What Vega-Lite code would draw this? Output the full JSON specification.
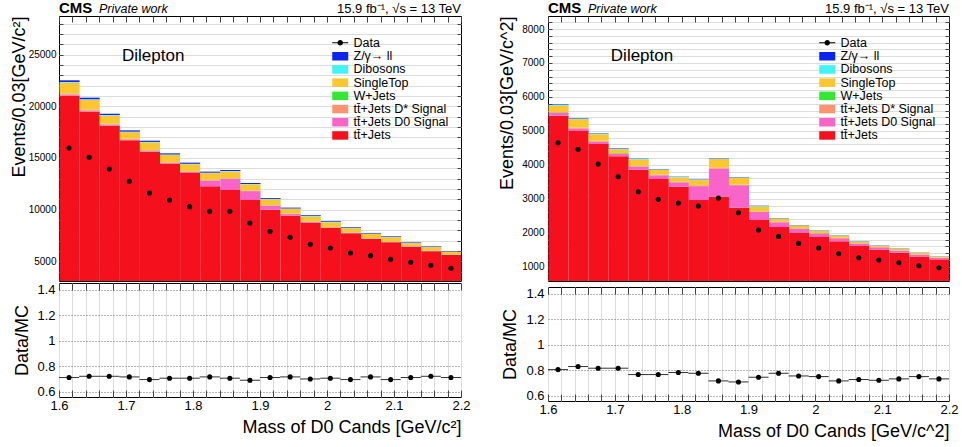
{
  "$schema": "https://vega.github.io/schema/vega-lite/v6.json",
  "padding": {"left": 9, "top": 0, "right": 5, "bottom": 0},
  "background": "white",
  "config": {
    "font": "Liberation Sans",
    "view": {"stroke": "black", "strokeWidth": 1},
    "axis": {"labelFont": "Liberation Sans", "titleFont": "Liberation Sans", "labelColor": "black", "titleColor": "black", "titleFontWeight": "normal", "labelOverlap": false, "labelFlush": false},
    "legend": {"labelFont": "Liberation Sans", "labelColor": "black", "padding": 0},
    "text": {"font": "Liberation Sans", "color": "black"}
  },
  "datasets": {
    "mcL": [
      {"lo": 1.60, "hi": 1.63, "p1": 21030, "p2": 100, "p3": 80, "p4": 40, "p5": 1050, "p6": 60, "p7": 160},
      {"lo": 1.63, "hi": 1.66, "p1": 19480, "p2": 90, "p3": 70, "p4": 40, "p5": 950, "p6": 60, "p7": 150},
      {"lo": 1.66, "hi": 1.69, "p1": 18130, "p2": 80, "p3": 60, "p4": 35, "p5": 800, "p6": 50, "p7": 135},
      {"lo": 1.69, "hi": 1.72, "p1": 16710, "p2": 70, "p3": 55, "p4": 30, "p5": 640, "p6": 45, "p7": 125},
      {"lo": 1.72, "hi": 1.75, "p1": 15610, "p2": 80, "p3": 50, "p4": 30, "p5": 745, "p6": 45, "p7": 115},
      {"lo": 1.75, "hi": 1.78, "p1": 14420, "p2": 90, "p3": 50, "p4": 25, "p5": 710, "p6": 45, "p7": 110},
      {"lo": 1.78, "hi": 1.81, "p1": 13550, "p2": 100, "p3": 45, "p4": 25, "p5": 680, "p6": 40, "p7": 110},
      {"lo": 1.81, "hi": 1.84, "p1": 12260, "p2": 560, "p3": 45, "p4": 25, "p5": 650, "p6": 40, "p7": 100},
      {"lo": 1.84, "hi": 1.87, "p1": 11900, "p2": 1080, "p3": 45, "p4": 25, "p5": 650, "p6": 40, "p7": 100},
      {"lo": 1.87, "hi": 1.90, "p1": 10935, "p2": 860, "p3": 40, "p4": 25, "p5": 590, "p6": 35, "p7": 95},
      {"lo": 1.90, "hi": 1.93, "p1": 10000, "p2": 380, "p3": 40, "p4": 20, "p5": 570, "p6": 35, "p7": 85},
      {"lo": 1.93, "hi": 1.96, "p1": 9420, "p2": 150, "p3": 35, "p4": 20, "p5": 460, "p6": 30, "p7": 80},
      {"lo": 1.96, "hi": 1.99, "p1": 8740, "p2": 70, "p3": 35, "p4": 20, "p5": 480, "p6": 30, "p7": 75},
      {"lo": 1.99, "hi": 2.02, "p1": 8225, "p2": 50, "p3": 30, "p4": 20, "p5": 450, "p6": 30, "p7": 70},
      {"lo": 2.02, "hi": 2.05, "p1": 7710, "p2": 40, "p3": 30, "p4": 15, "p5": 400, "p6": 25, "p7": 70},
      {"lo": 2.05, "hi": 2.08, "p1": 7160, "p2": 35, "p3": 30, "p4": 15, "p5": 420, "p6": 25, "p7": 60},
      {"lo": 2.08, "hi": 2.11, "p1": 6840, "p2": 30, "p3": 25, "p4": 15, "p5": 425, "p6": 25, "p7": 60},
      {"lo": 2.11, "hi": 2.14, "p1": 6420, "p2": 30, "p3": 25, "p4": 15, "p5": 270, "p6": 20, "p7": 55},
      {"lo": 2.14, "hi": 2.17, "p1": 5970, "p2": 25, "p3": 25, "p4": 15, "p5": 340, "p6": 20, "p7": 55},
      {"lo": 2.17, "hi": 2.20, "p1": 5610, "p2": 25, "p3": 20, "p4": 15, "p5": 260, "p6": 20, "p7": 50}
    ],
    "dataL": [
      {"c": 1.615, "lo": 1.60, "hi": 1.63, "data": 15967, "ratio": 0.711},
      {"c": 1.645, "lo": 1.63, "hi": 1.66, "data": 15064, "ratio": 0.721},
      {"c": 1.675, "lo": 1.66, "hi": 1.69, "data": 13935, "ratio": 0.721},
      {"c": 1.705, "lo": 1.69, "hi": 1.72, "data": 12742, "ratio": 0.716},
      {"c": 1.735, "lo": 1.72, "hi": 1.75, "data": 11613, "ratio": 0.695},
      {"c": 1.765, "lo": 1.75, "hi": 1.78, "data": 10935, "ratio": 0.706},
      {"c": 1.795, "lo": 1.78, "hi": 1.81, "data": 10290, "ratio": 0.706},
      {"c": 1.825, "lo": 1.81, "hi": 1.84, "data": 9838, "ratio": 0.716},
      {"c": 1.855, "lo": 1.84, "hi": 1.87, "data": 9838, "ratio": 0.706},
      {"c": 1.885, "lo": 1.87, "hi": 1.90, "data": 8710, "ratio": 0.690},
      {"c": 1.915, "lo": 1.90, "hi": 1.93, "data": 7903, "ratio": 0.711},
      {"c": 1.945, "lo": 1.93, "hi": 1.96, "data": 7322, "ratio": 0.716},
      {"c": 1.975, "lo": 1.96, "hi": 1.99, "data": 6644, "ratio": 0.700},
      {"c": 2.005, "lo": 1.99, "hi": 2.02, "data": 6290, "ratio": 0.706},
      {"c": 2.035, "lo": 2.02, "hi": 2.05, "data": 5806, "ratio": 0.695},
      {"c": 2.065, "lo": 2.05, "hi": 2.08, "data": 5548, "ratio": 0.716},
      {"c": 2.095, "lo": 2.08, "hi": 2.11, "data": 5193, "ratio": 0.695},
      {"c": 2.125, "lo": 2.11, "hi": 2.14, "data": 4902, "ratio": 0.711},
      {"c": 2.155, "lo": 2.14, "hi": 2.17, "data": 4612, "ratio": 0.721},
      {"c": 2.185, "lo": 2.17, "hi": 2.20, "data": 4322, "ratio": 0.711}
    ],
    "mcR": [
      {"lo": 1.60, "hi": 1.63, "p1": 5447, "p2": 80, "p3": 20, "p4": 10, "p5": 190, "p6": 20, "p7": 15},
      {"lo": 1.63, "hi": 1.66, "p1": 4996, "p2": 70, "p3": 20, "p4": 10, "p5": 250, "p6": 20, "p7": 14},
      {"lo": 1.66, "hi": 1.69, "p1": 4613, "p2": 70, "p3": 18, "p4": 10, "p5": 190, "p6": 15, "p7": 12},
      {"lo": 1.69, "hi": 1.72, "p1": 4250, "p2": 70, "p3": 17, "p4": 8, "p5": 115, "p6": 15, "p7": 12},
      {"lo": 1.72, "hi": 1.75, "p1": 3857, "p2": 90, "p3": 17, "p4": 8, "p5": 185, "p6": 14, "p7": 10},
      {"lo": 1.75, "hi": 1.78, "p1": 3582, "p2": 110, "p3": 15, "p4": 8, "p5": 137, "p6": 14, "p7": 10},
      {"lo": 1.78, "hi": 1.81, "p1": 3356, "p2": 130, "p3": 15, "p4": 8, "p5": 120, "p6": 12, "p7": 10},
      {"lo": 1.81, "hi": 1.84, "p1": 2963, "p2": 410, "p3": 15, "p4": 7, "p5": 155, "p6": 12, "p7": 10},
      {"lo": 1.84, "hi": 1.87, "p1": 3071, "p2": 820, "p3": 15, "p4": 7, "p5": 256, "p6": 12, "p7": 10},
      {"lo": 1.87, "hi": 1.90, "p1": 2738, "p2": 660, "p3": 14, "p4": 7, "p5": 200, "p6": 12, "p7": 10},
      {"lo": 1.90, "hi": 1.93, "p1": 2374, "p2": 240, "p3": 13, "p4": 7, "p5": 140, "p6": 14, "p7": 9},
      {"lo": 1.93, "hi": 1.96, "p1": 2168, "p2": 140, "p3": 12, "p4": 6, "p5": 88, "p6": 12, "p7": 8},
      {"lo": 1.96, "hi": 1.99, "p1": 1991, "p2": 120, "p3": 12, "p4": 6, "p5": 82, "p6": 10, "p7": 7},
      {"lo": 1.99, "hi": 2.02, "p1": 1874, "p2": 100, "p3": 11, "p4": 6, "p5": 63, "p6": 10, "p7": 7},
      {"lo": 2.02, "hi": 2.05, "p1": 1746, "p2": 90, "p3": 10, "p4": 5, "p5": 65, "p6": 10, "p7": 6},
      {"lo": 2.05, "hi": 2.08, "p1": 1608, "p2": 70, "p3": 10, "p4": 5, "p5": 48, "p6": 9, "p7": 6},
      {"lo": 2.08, "hi": 2.11, "p1": 1500, "p2": 70, "p3": 9, "p4": 5, "p5": 40, "p6": 9, "p7": 5},
      {"lo": 2.11, "hi": 2.14, "p1": 1412, "p2": 60, "p3": 9, "p4": 5, "p5": 50, "p6": 9, "p7": 5},
      {"lo": 2.14, "hi": 2.17, "p1": 1304, "p2": 50, "p3": 8, "p4": 4, "p5": 43, "p6": 8, "p7": 5},
      {"lo": 2.17, "hi": 2.20, "p1": 1216, "p2": 40, "p3": 8, "p4": 4, "p5": 35, "p6": 7, "p7": 4}
    ],
    "dataR": [
      {"c": 1.615, "lo": 1.60, "hi": 1.63, "data": 4652, "ratio": 0.805},
      {"c": 1.645, "lo": 1.63, "hi": 1.66, "data": 4456, "ratio": 0.829},
      {"c": 1.675, "lo": 1.66, "hi": 1.69, "data": 4024, "ratio": 0.816},
      {"c": 1.705, "lo": 1.69, "hi": 1.72, "data": 3651, "ratio": 0.816},
      {"c": 1.735, "lo": 1.72, "hi": 1.75, "data": 3209, "ratio": 0.766},
      {"c": 1.765, "lo": 1.75, "hi": 1.78, "data": 2983, "ratio": 0.766},
      {"c": 1.795, "lo": 1.78, "hi": 1.81, "data": 2875, "ratio": 0.782},
      {"c": 1.825, "lo": 1.81, "hi": 1.84, "data": 2787, "ratio": 0.776},
      {"c": 1.855, "lo": 1.84, "hi": 1.87, "data": 3022, "ratio": 0.716},
      {"c": 1.885, "lo": 1.87, "hi": 1.90, "data": 2590, "ratio": 0.708},
      {"c": 1.915, "lo": 1.90, "hi": 1.93, "data": 2080, "ratio": 0.745},
      {"c": 1.945, "lo": 1.93, "hi": 1.96, "data": 1893, "ratio": 0.776},
      {"c": 1.975, "lo": 1.96, "hi": 1.99, "data": 1687, "ratio": 0.755},
      {"c": 2.005, "lo": 1.99, "hi": 2.02, "data": 1550, "ratio": 0.750},
      {"c": 2.035, "lo": 2.02, "hi": 2.05, "data": 1383, "ratio": 0.716},
      {"c": 2.065, "lo": 2.05, "hi": 2.08, "data": 1265, "ratio": 0.727},
      {"c": 2.095, "lo": 2.08, "hi": 2.11, "data": 1196, "ratio": 0.721},
      {"c": 2.125, "lo": 2.11, "hi": 2.14, "data": 1117, "ratio": 0.732},
      {"c": 2.155, "lo": 2.14, "hi": 2.17, "data": 1029, "ratio": 0.750},
      {"c": 2.185, "lo": 2.17, "hi": 2.20, "data": 970, "ratio": 0.732}
    ]
  },
  "spacing": 26,
  "resolve": {"scale": {"color": "independent", "opacity": "independent"}, "legend": {"color": "independent", "opacity": "independent"}},
  "hconcat": [
    {
      "spacing": 0,
      "resolve": {"scale": {"color": "independent", "opacity": "independent"}, "legend": {"color": "independent", "opacity": "independent"}},
      "vconcat": [
        {
          "width": 402, "height": 265,
          "resolve": {"axis": {"x": "independent", "y": "independent"}},
          "layer": [
            {
              "data": {"name": "mcL"},
              "transform": [{"fold": ["p1", "p2", "p3", "p4", "p5", "p6", "p7"], "as": ["proc", "n"]}],
              "mark": {"type": "bar", "binSpacing": 0, "clip": true, "strokeWidth": 0, "orient": "vertical"},
              "encoding": {
                "x": {"field": "lo", "type": "quantitative", "bin": {"binned": true}, "scale": {"domain": [1.6, 2.2], "nice": false, "zero": false},
                      "axis": {"orient": "bottom", "ticks": false, "labels": false, "title": null, "domain": false}},
                "x2": {"field": "hi"},
                "y": {"field": "n", "type": "quantitative", "stack": "zero", "scale": {"domain": [3093, 28746], "nice": false, "zero": false},
                      "axis": {"orient": "left", "values": [4000,5000,6000,7000,8000,9000,10000,11000,12000,13000,14000,15000,16000,17000,18000,19000,20000,21000,22000,23000,24000,25000,26000,27000,28000],
                               "labelExpr": "datum.value % 5000 == 0 ? format(datum.value, 'd') : ''",
                               "tickSize": 4, "offset": -4, "tickColor": "#444444", "tickWidth": 1,
                               "labelFontSize": 10, "labelPadding": 3, "labelBaseline": "middle",
                               "title": "Events/0.03[GeV/c²]", "titleFontSize": 18, "titleAnchor": "end", "titleX": -39, "titleBaseline": "alphabetic",
                               "domain": false}},
                "color": {"field": "proc", "type": "nominal",
                          "scale": {"domain": ["p7", "p6", "p5", "p4", "p3", "p2", "p1"], "range": ["#0b25ee", "#3ff4f4", "#fcc631", "#33e833", "#fd9470", "#f964c8", "#f5101e"]},
                          "legend": {"orient": "none", "legendX": 275, "legendY": 34, "title": null,
                                     "symbolType": "M-1.6,-0.85H1.6V0.85H-1.6Z", "symbolSize": 100, "symbolStrokeWidth": 0, "symbolOpacity": 1,
                                     "labelFontSize": 12.5, "labelOffset": 7, "rowPadding": 0.2,
                                     "labelExpr": "{'p7': 'Z/γ→ ll', 'p6': 'Dibosons', 'p5': 'SingleTop', 'p4': 'W+Jets', 'p3': 'tt̄+Jets D* Signal', 'p2': 'tt̄+Jets D0 Signal', 'p1': 'tt̄+Jets'}[datum.label]"}},
                "order": {"field": "proc", "type": "nominal", "sort": "ascending"}
              }
            },
            {
              "data": {"name": "dataL"},
              "mark": {"type": "point", "filled": true, "shape": "circle", "size": 26, "color": "black"},
              "encoding": {
                "x": {"field": "c", "type": "quantitative", "scale": {"domain": [1.6, 2.2], "nice": false, "zero": false},
                      "axis": {"orient": "top", "values": [1.6,1.62,1.64,1.66,1.68,1.7,1.72,1.74,1.76,1.78,1.8,1.82,1.84,1.86,1.88,1.9,1.92,1.94,1.96,1.98,2,2.02,2.04,2.06,2.08,2.1,2.12,2.14,2.16,2.18,2.2],
                               "tickSize": 6, "offset": -6, "tickColor": "#444444", "tickWidth": 1,
                               "labels": false, "title": null, "domain": false}},
                "y": {"field": "data", "type": "quantitative", "scale": {"domain": [3093, 28746], "nice": false, "zero": false},
                      "axis": {"orient": "right", "values": [4000,5000,6000,7000,8000,9000,10000,11000,12000,13000,14000,15000,16000,17000,18000,19000,20000,21000,22000,23000,24000,25000,26000,27000,28000],
                               "tickSize": 4, "offset": -4, "tickColor": "#444444", "tickWidth": 1,
                               "labels": false, "title": null, "domain": false}},
                "opacity": {"datum": "Data", "type": "nominal", "scale": {"range": [1]},
                            "legend": {"orient": "none", "legendX": 275, "legendY": 20.5, "title": null,
                                       "symbolType": "M-1.6,-0.1H1.6V0.1H-1.6ZM0.55,0A0.55,0.55 0 1,1 -0.55,0A0.55,0.55 0 1,1 0.55,0Z", "symbolSize": 100,
                                       "symbolFillColor": "black", "symbolStrokeColor": "black", "symbolStrokeWidth": 0,
                                       "labelFontSize": 12.5, "labelOffset": 7}}
              }
            },
            {
              "data": {"values": [{}]},
              "mark": {"type": "text", "text": "Dilepton", "fontSize": 17, "align": "left", "baseline": "middle"},
              "encoding": {"x": {"datum": 1.694, "scale": {"domain": [1.6, 2.2], "nice": false, "zero": false}, "axis": null},
                           "y": {"datum": 24900, "scale": {"domain": [3093, 28746], "nice": false, "zero": false}, "axis": null}}
            },
            {
              "data": {"values": [{}]},
              "mark": {"type": "text", "text": "CMS", "fontSize": 15, "fontWeight": "bold", "align": "left", "baseline": "alphabetic", "dy": -3},
              "encoding": {"x": {"datum": 1.6, "scale": {"domain": [1.6, 2.2], "nice": false, "zero": false}, "axis": null},
                           "y": {"datum": 28746, "scale": {"domain": [3093, 28746], "nice": false, "zero": false}, "axis": null}}
            },
            {
              "data": {"values": [{}]},
              "mark": {"type": "text", "text": "Private work", "fontSize": 12.5, "fontStyle": "italic", "align": "left", "baseline": "alphabetic", "dy": -3, "dx": 40},
              "encoding": {"x": {"datum": 1.6, "scale": {"domain": [1.6, 2.2], "nice": false, "zero": false}, "axis": null},
                           "y": {"datum": 28746, "scale": {"domain": [3093, 28746], "nice": false, "zero": false}, "axis": null}}
            },
            {
              "data": {"values": [{}]},
              "mark": {"type": "text", "text": "15.9 fb⁻¹, √s = 13 TeV", "fontSize": 13, "align": "right", "baseline": "alphabetic", "dy": -3},
              "encoding": {"x": {"datum": 2.2, "scale": {"domain": [1.6, 2.2], "nice": false, "zero": false}, "axis": null},
                           "y": {"datum": 28746, "scale": {"domain": [3093, 28746], "nice": false, "zero": false}, "axis": null}}
            }
          ]
        },
        {
          "width": 402, "height": 114,
          "resolve": {"axis": {"x": "independent", "y": "independent"}},
          "layer": [
            {
              "data": {"name": "dataL"},
              "mark": {"type": "rule", "color": "#333", "strokeWidth": 1},
              "encoding": {
                "x": {"field": "lo", "type": "quantitative", "scale": {"domain": [1.6, 2.2], "nice": false, "zero": false},
                      "axis": {"orient": "bottom", "values": [1.6,1.62,1.64,1.66,1.68,1.7,1.72,1.74,1.76,1.78,1.8,1.82,1.84,1.86,1.88,1.9,1.92,1.94,1.96,1.98,2,2.02,2.04,2.06,2.08,2.1,2.12,2.14,2.16,2.18,2.2],
                               "labelExpr": "abs(datum.value*10 - round(datum.value*10)) < 0.001 ? format(datum.value, '~g') : ''",
                               "tickSize": 7, "offset": -7, "tickColor": "#444444", "tickWidth": 1,
                               "labelFontSize": 13, "labelPadding": 2,
                               "title": "Mass of D0 Cands [GeV/c²]", "titleFontSize": 18, "titleAnchor": "end", "titlePadding": 6,
                               "domain": false}},
                "x2": {"field": "hi"},
                "y": {"field": "ratio", "type": "quantitative", "scale": {"domain": [0.558, 1.455], "nice": false, "zero": false},
                      "axis": {"orient": "left", "values": [0.6, 0.8, 1, 1.2, 1.4], "format": "~g", "ticks": false,
                               "grid": true, "gridDash": [1, 2], "gridColor": "#444444", "gridWidth": 0.8, "zindex": 0,
                               "labelFontSize": 13, "labelPadding": 4, "labelBaseline": "middle",
                               "title": "Data/MC", "titleFontSize": 18, "titleX": -32, "titleBaseline": "alphabetic",
                               "domain": false}}
              }
            },
            {
              "data": {"name": "dataL"},
              "mark": {"type": "point", "filled": true, "shape": "circle", "size": 26, "color": "black", "opacity": 1},
              "encoding": {
                "x": {"field": "c", "type": "quantitative", "scale": {"domain": [1.6, 2.2], "nice": false, "zero": false},
                      "axis": {"orient": "top", "values": [1.6,1.62,1.64,1.66,1.68,1.7,1.72,1.74,1.76,1.78,1.8,1.82,1.84,1.86,1.88,1.9,1.92,1.94,1.96,1.98,2,2.02,2.04,2.06,2.08,2.1,2.12,2.14,2.16,2.18,2.2],
                               "tickSize": 7, "offset": -7, "tickColor": "#444444", "tickWidth": 1,
                               "labels": false, "title": null, "domain": false}},
                "y": {"field": "ratio", "type": "quantitative", "scale": {"domain": [0.558, 1.455], "nice": false, "zero": false},
                      "axis": {"orient": "right", "ticks": false, "labels": false, "title": null, "domain": false, "grid": false}}
              }
            }
          ]
        }
      ]
    },
    {
      "spacing": 0,
      "resolve": {"scale": {"color": "independent", "opacity": "independent"}, "legend": {"color": "independent", "opacity": "independent"}},
      "vconcat": [
        {
          "width": 401, "height": 265,
          "resolve": {"axis": {"x": "independent", "y": "independent"}},
          "layer": [
            {
              "data": {"name": "mcR"},
              "transform": [{"fold": ["p1", "p2", "p3", "p4", "p5", "p6", "p7"], "as": ["proc", "n"]}],
              "mark": {"type": "bar", "binSpacing": 0, "clip": true, "strokeWidth": 0, "orient": "vertical"},
              "encoding": {
                "x": {"field": "lo", "type": "quantitative", "bin": {"binned": true}, "scale": {"domain": [1.6, 2.2], "nice": false, "zero": false},
                      "axis": {"orient": "bottom", "ticks": false, "labels": false, "title": null, "domain": false}},
                "x2": {"field": "hi"},
                "y": {"field": "n", "type": "quantitative", "stack": "zero", "scale": {"domain": [579, 8383], "nice": false, "zero": false},
                      "axis": {"orient": "left", "values": [600,800,1000,1200,1400,1600,1800,2000,2200,2400,2600,2800,3000,3200,3400,3600,3800,4000,4200,4400,4600,4800,5000,5200,5400,5600,5800,6000,6200,6400,6600,6800,7000,7200,7400,7600,7800,8000,8200],
                               "labelExpr": "datum.value % 1000 == 0 ? format(datum.value, 'd') : ''",
                               "tickSize": 4, "offset": -4, "tickColor": "#444444", "tickWidth": 1,
                               "labelFontSize": 10, "labelPadding": 4, "labelBaseline": "middle",
                               "title": "Events/0.03[GeV/c^2]", "titleFontSize": 18, "titleAnchor": "end", "titleX": -40, "titleBaseline": "alphabetic",
                               "domain": false}},
                "color": {"field": "proc", "type": "nominal",
                          "scale": {"domain": ["p7", "p6", "p5", "p4", "p3", "p2", "p1"], "range": ["#0b25ee", "#3ff4f4", "#fcc631", "#33e833", "#fd9470", "#f964c8", "#f5101e"]},
                          "legend": {"orient": "none", "legendX": 273, "legendY": 34, "title": null,
                                     "symbolType": "M-1.6,-0.85H1.6V0.85H-1.6Z", "symbolSize": 100, "symbolStrokeWidth": 0, "symbolOpacity": 1,
                                     "labelFontSize": 12.5, "labelOffset": 7, "rowPadding": 0.2,
                                     "labelExpr": "{'p7': 'Z/γ→ ll', 'p6': 'Dibosons', 'p5': 'SingleTop', 'p4': 'W+Jets', 'p3': 'tt̄+Jets D* Signal', 'p2': 'tt̄+Jets D0 Signal', 'p1': 'tt̄+Jets'}[datum.label]"}},
                "order": {"field": "proc", "type": "nominal", "sort": "ascending"}
              }
            },
            {
              "data": {"name": "dataR"},
              "mark": {"type": "point", "filled": true, "shape": "circle", "size": 26, "color": "black"},
              "encoding": {
                "x": {"field": "c", "type": "quantitative", "scale": {"domain": [1.6, 2.2], "nice": false, "zero": false},
                      "axis": {"orient": "top", "values": [1.6,1.62,1.64,1.66,1.68,1.7,1.72,1.74,1.76,1.78,1.8,1.82,1.84,1.86,1.88,1.9,1.92,1.94,1.96,1.98,2,2.02,2.04,2.06,2.08,2.1,2.12,2.14,2.16,2.18,2.2],
                               "tickSize": 6, "offset": -6, "tickColor": "#444444", "tickWidth": 1,
                               "labels": false, "title": null, "domain": false}},
                "y": {"field": "data", "type": "quantitative", "scale": {"domain": [579, 8383], "nice": false, "zero": false},
                      "axis": {"orient": "right", "values": [600,800,1000,1200,1400,1600,1800,2000,2200,2400,2600,2800,3000,3200,3400,3600,3800,4000,4200,4400,4600,4800,5000,5200,5400,5600,5800,6000,6200,6400,6600,6800,7000,7200,7400,7600,7800,8000,8200],
                               "tickSize": 4, "offset": -4, "tickColor": "#444444", "tickWidth": 1,
                               "labels": false, "title": null, "domain": false}},
                "opacity": {"datum": "Data", "type": "nominal", "scale": {"range": [1]},
                            "legend": {"orient": "none", "legendX": 273, "legendY": 20.5, "title": null,
                                       "symbolType": "M-1.6,-0.1H1.6V0.1H-1.6ZM0.55,0A0.55,0.55 0 1,1 -0.55,0A0.55,0.55 0 1,1 0.55,0Z", "symbolSize": 100,
                                       "symbolFillColor": "black", "symbolStrokeColor": "black", "symbolStrokeWidth": 0,
                                       "labelFontSize": 12.5, "labelOffset": 7}}
              }
            },
            {
              "data": {"values": [{}]},
              "mark": {"type": "text", "text": "Dilepton", "fontSize": 17, "align": "left", "baseline": "middle"},
              "encoding": {"x": {"datum": 1.694, "scale": {"domain": [1.6, 2.2], "nice": false, "zero": false}, "axis": null},
                           "y": {"datum": 7195, "scale": {"domain": [579, 8383], "nice": false, "zero": false}, "axis": null}}
            },
            {
              "data": {"values": [{}]},
              "mark": {"type": "text", "text": "CMS", "fontSize": 15, "fontWeight": "bold", "align": "left", "baseline": "alphabetic", "dy": -3},
              "encoding": {"x": {"datum": 1.6, "scale": {"domain": [1.6, 2.2], "nice": false, "zero": false}, "axis": null},
                           "y": {"datum": 8383, "scale": {"domain": [579, 8383], "nice": false, "zero": false}, "axis": null}}
            },
            {
              "data": {"values": [{}]},
              "mark": {"type": "text", "text": "Private work", "fontSize": 12.5, "fontStyle": "italic", "align": "left", "baseline": "alphabetic", "dy": -3, "dx": 40},
              "encoding": {"x": {"datum": 1.6, "scale": {"domain": [1.6, 2.2], "nice": false, "zero": false}, "axis": null},
                           "y": {"datum": 8383, "scale": {"domain": [579, 8383], "nice": false, "zero": false}, "axis": null}}
            },
            {
              "data": {"values": [{}]},
              "mark": {"type": "text", "text": "15.9 fb⁻¹, √s = 13 TeV", "fontSize": 13, "align": "right", "baseline": "alphabetic", "dy": -3},
              "encoding": {"x": {"datum": 2.2, "scale": {"domain": [1.6, 2.2], "nice": false, "zero": false}, "axis": null},
                           "y": {"datum": 8383, "scale": {"domain": [579, 8383], "nice": false, "zero": false}, "axis": null}}
            }
          ]
        },
        {
          "width": 401, "height": 114,
          "resolve": {"axis": {"x": "independent", "y": "independent"}},
          "layer": [
            {
              "data": {"name": "dataR"},
              "mark": {"type": "rule", "color": "#333", "strokeWidth": 1},
              "encoding": {
                "x": {"field": "lo", "type": "quantitative", "scale": {"domain": [1.6, 2.2], "nice": false, "zero": false},
                      "axis": {"orient": "bottom", "values": [1.6,1.62,1.64,1.66,1.68,1.7,1.72,1.74,1.76,1.78,1.8,1.82,1.84,1.86,1.88,1.9,1.92,1.94,1.96,1.98,2,2.02,2.04,2.06,2.08,2.1,2.12,2.14,2.16,2.18,2.2],
                               "labelExpr": "abs(datum.value*10 - round(datum.value*10)) < 0.001 ? format(datum.value, '~g') : ''",
                               "tickSize": 7, "offset": -7, "tickColor": "#444444", "tickWidth": 1,
                               "labelFontSize": 13, "labelPadding": 2,
                               "title": "Mass of D0 Cands [GeV/c^2]", "titleFontSize": 18, "titleAnchor": "end", "titlePadding": 6,
                               "domain": false}},
                "x2": {"field": "hi"},
                "y": {"field": "ratio", "type": "quantitative", "scale": {"domain": [0.558, 1.455], "nice": false, "zero": false},
                      "axis": {"orient": "left", "values": [0.6, 0.8, 1, 1.2, 1.4], "format": "~g", "ticks": false,
                               "grid": true, "gridDash": [1, 2], "gridColor": "#444444", "gridWidth": 0.8, "zindex": 0,
                               "labelFontSize": 13, "labelPadding": 4, "labelBaseline": "middle",
                               "title": "Data/MC", "titleFontSize": 18, "titleX": -33, "titleBaseline": "alphabetic",
                               "domain": false}}
              }
            },
            {
              "data": {"name": "dataR"},
              "mark": {"type": "point", "filled": true, "shape": "circle", "size": 26, "color": "black", "opacity": 1},
              "encoding": {
                "x": {"field": "c", "type": "quantitative", "scale": {"domain": [1.6, 2.2], "nice": false, "zero": false},
                      "axis": {"orient": "top", "values": [1.6,1.62,1.64,1.66,1.68,1.7,1.72,1.74,1.76,1.78,1.8,1.82,1.84,1.86,1.88,1.9,1.92,1.94,1.96,1.98,2,2.02,2.04,2.06,2.08,2.1,2.12,2.14,2.16,2.18,2.2],
                               "tickSize": 7, "offset": -7, "tickColor": "#444444", "tickWidth": 1,
                               "labels": false, "title": null, "domain": false}},
                "y": {"field": "ratio", "type": "quantitative", "scale": {"domain": [0.558, 1.455], "nice": false, "zero": false},
                      "axis": {"orient": "right", "ticks": false, "labels": false, "title": null, "domain": false, "grid": false}}
              }
            }
          ]
        }
      ]
    }
  ]
}
